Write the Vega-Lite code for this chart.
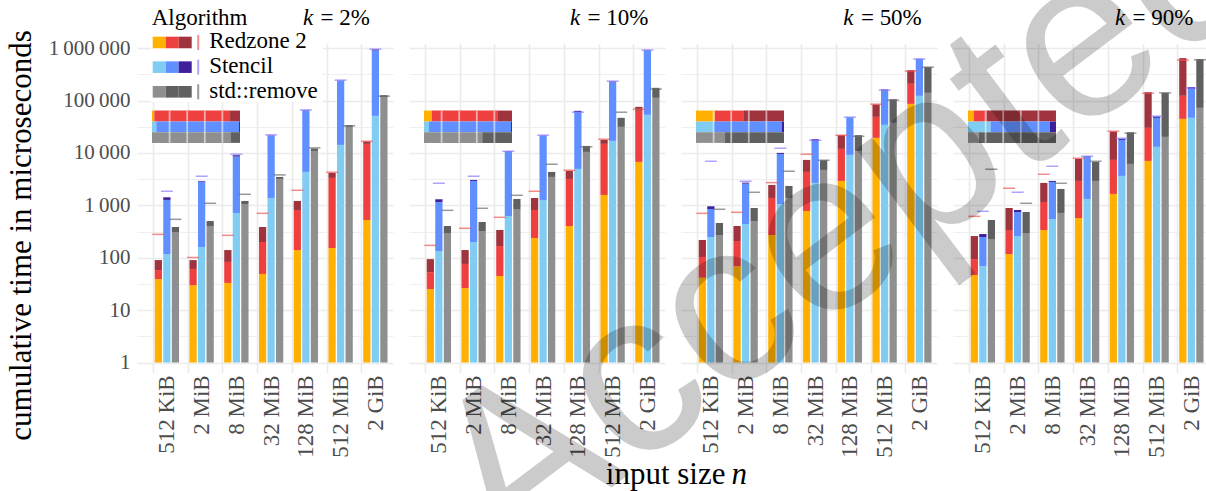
{
"$schema": "https://vega.github.io/schema/vega-lite/v6.json",
"autosize": "none",
"bounds": "flush",
"padding": {"left": 137, "top": 0, "right": 1069, "bottom": 491},
"spacing": 16,
"config": {
  "font": "Liberation Serif",
  "view": {"stroke": null},
  "axis": {"domain": false, "ticks": false, "labelFont": "Liberation Serif", "titleFont": "Liberation Serif", "labelColor": "#4d4d4d", "titleColor": "#000000", "titleFontWeight": "normal", "gridColor": "#ebebeb"}
},
"datasets": {
"bars": [
{"k":"2%","n":"512 KiB","a":"R","p":"R1","lo":1,"hi":39},{"k":"2%","n":"512 KiB","a":"R","p":"R2","lo":39,"hi":58},{"k":"2%","n":"512 KiB","a":"R","p":"R3","lo":58,"hi":90},
{"k":"2%","n":"512 KiB","a":"S","p":"S1","lo":1,"hi":117},{"k":"2%","n":"512 KiB","a":"S","p":"S2","lo":117,"hi":1266},{"k":"2%","n":"512 KiB","a":"S","p":"S3","lo":1266,"hi":1422},
{"k":"2%","n":"512 KiB","a":"G","p":"G1","lo":1,"hi":305},{"k":"2%","n":"512 KiB","a":"G","p":"G2","lo":305,"hi":385},
{"k":"2%","n":"2 MiB","a":"R","p":"R1","lo":1,"hi":30},{"k":"2%","n":"2 MiB","a":"R","p":"R2","lo":30,"hi":61},{"k":"2%","n":"2 MiB","a":"R","p":"R3","lo":61,"hi":90},
{"k":"2%","n":"2 MiB","a":"S","p":"S1","lo":1,"hi":160},{"k":"2%","n":"2 MiB","a":"S","p":"S2","lo":160,"hi":2833},{"k":"2%","n":"2 MiB","a":"S","p":"S3","lo":2833,"hi":2917},
{"k":"2%","n":"2 MiB","a":"G","p":"G1","lo":1,"hi":403},{"k":"2%","n":"2 MiB","a":"G","p":"G2","lo":403,"hi":501},
{"k":"2%","n":"8 MiB","a":"R","p":"R1","lo":1,"hi":33},{"k":"2%","n":"8 MiB","a":"R","p":"R2","lo":33,"hi":83},{"k":"2%","n":"8 MiB","a":"R","p":"R3","lo":83,"hi":140},
{"k":"2%","n":"8 MiB","a":"S","p":"S1","lo":1,"hi":714},{"k":"2%","n":"8 MiB","a":"S","p":"S2","lo":714,"hi":8510},{"k":"2%","n":"8 MiB","a":"S","p":"S3","lo":8510,"hi":9020},
{"k":"2%","n":"8 MiB","a":"G","p":"G1","lo":1,"hi":1060},{"k":"2%","n":"8 MiB","a":"G","p":"G2","lo":1060,"hi":1210},
{"k":"2%","n":"32 MiB","a":"R","p":"R1","lo":1,"hi":49},{"k":"2%","n":"32 MiB","a":"R","p":"R2","lo":49,"hi":199},{"k":"2%","n":"32 MiB","a":"R","p":"R3","lo":199,"hi":385},
{"k":"2%","n":"32 MiB","a":"S","p":"S1","lo":1,"hi":1380},{"k":"2%","n":"32 MiB","a":"S","p":"S2","lo":1380,"hi":21400},{"k":"2%","n":"32 MiB","a":"S","p":"S3","lo":21400,"hi":21700},
{"k":"2%","n":"32 MiB","a":"G","p":"G1","lo":1,"hi":3185},{"k":"2%","n":"32 MiB","a":"G","p":"G2","lo":3185,"hi":3477},
{"k":"2%","n":"128 MiB","a":"R","p":"R1","lo":1,"hi":140},{"k":"2%","n":"128 MiB","a":"R","p":"R2","lo":140,"hi":814},{"k":"2%","n":"128 MiB","a":"R","p":"R3","lo":814,"hi":1210},
{"k":"2%","n":"128 MiB","a":"S","p":"S1","lo":1,"hi":4335},{"k":"2%","n":"128 MiB","a":"S","p":"S2","lo":4335,"hi":64400},{"k":"2%","n":"128 MiB","a":"S","p":"S3","lo":64400,"hi":65500},
{"k":"2%","n":"128 MiB","a":"G","p":"G1","lo":1,"hi":10900},{"k":"2%","n":"128 MiB","a":"G","p":"G2","lo":10900,"hi":12100},
{"k":"2%","n":"512 MiB","a":"R","p":"R1","lo":1,"hi":153},{"k":"2%","n":"512 MiB","a":"R","p":"R2","lo":153,"hi":3330},{"k":"2%","n":"512 MiB","a":"R","p":"R3","lo":3330,"hi":4150},
{"k":"2%","n":"512 MiB","a":"S","p":"S1","lo":1,"hi":14200},{"k":"2%","n":"512 MiB","a":"S","p":"S2","lo":14200,"hi":237600},{"k":"2%","n":"512 MiB","a":"S","p":"S3","lo":237600,"hi":241000},
{"k":"2%","n":"512 MiB","a":"G","p":"G1","lo":1,"hi":31400},{"k":"2%","n":"512 MiB","a":"G","p":"G2","lo":31400,"hi":33800},
{"k":"2%","n":"2 GiB","a":"R","p":"R1","lo":1,"hi":525},{"k":"2%","n":"2 GiB","a":"R","p":"R2","lo":525,"hi":14860},{"k":"2%","n":"2 GiB","a":"R","p":"R3","lo":14860,"hi":16470},
{"k":"2%","n":"2 GiB","a":"S","p":"S1","lo":1,"hi":50900},{"k":"2%","n":"2 GiB","a":"S","p":"S2","lo":50900,"hi":902000},{"k":"2%","n":"2 GiB","a":"S","p":"S3","lo":902000,"hi":943000},
{"k":"2%","n":"2 GiB","a":"G","p":"G1","lo":1,"hi":114000},{"k":"2%","n":"2 GiB","a":"G","p":"G2","lo":114000,"hi":126500},

{"k":"10%","n":"512 KiB","a":"R","p":"R1","lo":1,"hi":25.2},{"k":"10%","n":"512 KiB","a":"R","p":"R2","lo":25.2,"hi":53},{"k":"10%","n":"512 KiB","a":"R","p":"R3","lo":53,"hi":94},
{"k":"10%","n":"512 KiB","a":"S","p":"S1","lo":1,"hi":134},{"k":"10%","n":"512 KiB","a":"S","p":"S2","lo":134,"hi":1158},{"k":"10%","n":"512 KiB","a":"S","p":"S3","lo":1158,"hi":1303},
{"k":"10%","n":"512 KiB","a":"G","p":"G1","lo":1,"hi":296},{"k":"10%","n":"512 KiB","a":"G","p":"G2","lo":296,"hi":403},
{"k":"10%","n":"2 MiB","a":"R","p":"R1","lo":1,"hi":26.3},{"k":"10%","n":"2 MiB","a":"R","p":"R2","lo":26.3,"hi":76},{"k":"10%","n":"2 MiB","a":"R","p":"R3","lo":76,"hi":140},
{"k":"10%","n":"2 MiB","a":"S","p":"S1","lo":1,"hi":199},{"k":"10%","n":"2 MiB","a":"S","p":"S2","lo":199,"hi":2917},{"k":"10%","n":"2 MiB","a":"S","p":"S3","lo":2917,"hi":3050},
{"k":"10%","n":"2 MiB","a":"G","p":"G1","lo":1,"hi":323},{"k":"10%","n":"2 MiB","a":"G","p":"G2","lo":323,"hi":480},
{"k":"10%","n":"8 MiB","a":"R","p":"R1","lo":1,"hi":44.7},{"k":"10%","n":"8 MiB","a":"R","p":"R2","lo":44.7,"hi":167},{"k":"10%","n":"8 MiB","a":"R","p":"R3","lo":167,"hi":338},
{"k":"10%","n":"8 MiB","a":"S","p":"S1","lo":1,"hi":625},{"k":"10%","n":"8 MiB","a":"S","p":"S2","lo":625,"hi":10600},{"k":"10%","n":"8 MiB","a":"S","p":"S3","lo":10600,"hi":10800},
{"k":"10%","n":"8 MiB","a":"G","p":"G1","lo":1,"hi":851},{"k":"10%","n":"8 MiB","a":"G","p":"G2","lo":851,"hi":1321},
{"k":"10%","n":"32 MiB","a":"R","p":"R1","lo":1,"hi":238},{"k":"10%","n":"32 MiB","a":"R","p":"R2","lo":238,"hi":814},{"k":"10%","n":"32 MiB","a":"R","p":"R3","lo":814,"hi":1380},
{"k":"10%","n":"32 MiB","a":"S","p":"S1","lo":1,"hi":1265},{"k":"10%","n":"32 MiB","a":"S","p":"S2","lo":1265,"hi":21400},{"k":"10%","n":"32 MiB","a":"S","p":"S3","lo":21400,"hi":21600},
{"k":"10%","n":"32 MiB","a":"G","p":"G1","lo":1,"hi":3477},{"k":"10%","n":"32 MiB","a":"G","p":"G2","lo":3477,"hi":4335},
{"k":"10%","n":"128 MiB","a":"R","p":"R1","lo":1,"hi":403},{"k":"10%","n":"128 MiB","a":"R","p":"R2","lo":403,"hi":3185},{"k":"10%","n":"128 MiB","a":"R","p":"R3","lo":3185,"hi":4530},
{"k":"10%","n":"128 MiB","a":"S","p":"S1","lo":1,"hi":4945},{"k":"10%","n":"128 MiB","a":"S","p":"S2","lo":4945,"hi":59840},{"k":"10%","n":"128 MiB","a":"S","p":"S3","lo":59840,"hi":63500},
{"k":"10%","n":"128 MiB","a":"G","p":"G1","lo":1,"hi":10440},{"k":"10%","n":"128 MiB","a":"G","p":"G2","lo":10440,"hi":13600},
{"k":"10%","n":"512 MiB","a":"R","p":"R1","lo":1,"hi":1575},{"k":"10%","n":"512 MiB","a":"R","p":"R2","lo":1575,"hi":14860},{"k":"10%","n":"512 MiB","a":"R","p":"R3","lo":14860,"hi":17700},
{"k":"10%","n":"512 MiB","a":"S","p":"S1","lo":1,"hi":16950},{"k":"10%","n":"512 MiB","a":"S","p":"S2","lo":16950,"hi":224000},{"k":"10%","n":"512 MiB","a":"S","p":"S3","lo":224000,"hi":230600},
{"k":"10%","n":"512 MiB","a":"G","p":"G1","lo":1,"hi":31400},{"k":"10%","n":"512 MiB","a":"G","p":"G2","lo":31400,"hi":46700},
{"k":"10%","n":"2 GiB","a":"R","p":"R1","lo":1,"hi":6730},{"k":"10%","n":"2 GiB","a":"R","p":"R2","lo":6730,"hi":63500},{"k":"10%","n":"2 GiB","a":"R","p":"R3","lo":63500,"hi":75700},
{"k":"10%","n":"2 GiB","a":"S","p":"S1","lo":1,"hi":53200},{"k":"10%","n":"2 GiB","a":"S","p":"S2","lo":53200,"hi":916000},{"k":"10%","n":"2 GiB","a":"S","p":"S3","lo":916000,"hi":925000},
{"k":"10%","n":"2 GiB","a":"G","p":"G1","lo":1,"hi":112500},{"k":"10%","n":"2 GiB","a":"G","p":"G2","lo":112500,"hi":174700},

{"k":"50%","n":"512 KiB","a":"R","p":"R1","lo":1,"hi":41.5},{"k":"50%","n":"512 KiB","a":"R","p":"R2","lo":41.5,"hi":103},{"k":"50%","n":"512 KiB","a":"R","p":"R3","lo":103,"hi":218},
{"k":"50%","n":"512 KiB","a":"S","p":"S1","lo":1,"hi":248},{"k":"50%","n":"512 KiB","a":"S","p":"S2","lo":248,"hi":851},{"k":"50%","n":"512 KiB","a":"S","p":"S3","lo":851,"hi":957},
{"k":"50%","n":"512 KiB","a":"G","p":"G1","lo":1,"hi":271},{"k":"50%","n":"512 KiB","a":"G","p":"G2","lo":271,"hi":459},
{"k":"50%","n":"2 MiB","a":"R","p":"R1","lo":1,"hi":69},{"k":"50%","n":"2 MiB","a":"R","p":"R2","lo":69,"hi":208},{"k":"50%","n":"2 MiB","a":"R","p":"R3","lo":208,"hi":403},
{"k":"50%","n":"2 MiB","a":"S","p":"S1","lo":1,"hi":440},{"k":"50%","n":"2 MiB","a":"S","p":"S2","lo":440,"hi":2594},{"k":"50%","n":"2 MiB","a":"S","p":"S3","lo":2594,"hi":2710},
{"k":"50%","n":"2 MiB","a":"G","p":"G1","lo":1,"hi":501},{"k":"50%","n":"2 MiB","a":"G","p":"G2","lo":501,"hi":889},
{"k":"50%","n":"8 MiB","a":"R","p":"R1","lo":1,"hi":271},{"k":"50%","n":"8 MiB","a":"R","p":"R2","lo":271,"hi":1380},{"k":"50%","n":"8 MiB","a":"R","p":"R3","lo":1380,"hi":2447},
{"k":"50%","n":"8 MiB","a":"S","p":"S1","lo":1,"hi":1060},{"k":"50%","n":"8 MiB","a":"S","p":"S2","lo":1060,"hi":9570},{"k":"50%","n":"8 MiB","a":"S","p":"S3","lo":9570,"hi":10000},
{"k":"50%","n":"8 MiB","a":"G","p":"G1","lo":1,"hi":1380},{"k":"50%","n":"8 MiB","a":"G","p":"G2","lo":1380,"hi":2340},
{"k":"50%","n":"32 MiB","a":"R","p":"R1","lo":1,"hi":780},{"k":"50%","n":"32 MiB","a":"R","p":"R2","lo":780,"hi":4335},{"k":"50%","n":"32 MiB","a":"R","p":"R3","lo":4335,"hi":7350},
{"k":"50%","n":"32 MiB","a":"S","p":"S1","lo":1,"hi":2672},{"k":"50%","n":"32 MiB","a":"S","p":"S2","lo":2672,"hi":16950},{"k":"50%","n":"32 MiB","a":"S","p":"S3","lo":16950,"hi":18240},
{"k":"50%","n":"32 MiB","a":"G","p":"G1","lo":1,"hi":4730},{"k":"50%","n":"32 MiB","a":"G","p":"G2","lo":4730,"hi":7250},
{"k":"50%","n":"128 MiB","a":"R","p":"R1","lo":1,"hi":2917},{"k":"50%","n":"128 MiB","a":"R","p":"R2","lo":2917,"hi":11920},{"k":"50%","n":"128 MiB","a":"R","p":"R3","lo":11920,"hi":21770},
{"k":"50%","n":"128 MiB","a":"S","p":"S1","lo":1,"hi":9160},{"k":"50%","n":"128 MiB","a":"S","p":"S2","lo":9160,"hi":47300},{"k":"50%","n":"128 MiB","a":"S","p":"S3","lo":47300,"hi":47800},
{"k":"50%","n":"128 MiB","a":"G","p":"G1","lo":1,"hi":10900},{"k":"50%","n":"128 MiB","a":"G","p":"G2","lo":10900,"hi":21770},
{"k":"50%","n":"512 MiB","a":"R","p":"R1","lo":1,"hi":19350},{"k":"50%","n":"512 MiB","a":"R","p":"R2","lo":19350,"hi":48700},{"k":"50%","n":"512 MiB","a":"R","p":"R3","lo":48700,"hi":83900},
{"k":"50%","n":"512 MiB","a":"S","p":"S1","lo":1,"hi":34300},{"k":"50%","n":"512 MiB","a":"S","p":"S2","lo":34300,"hi":155300},{"k":"50%","n":"512 MiB","a":"S","p":"S3","lo":155300,"hi":162300},
{"k":"50%","n":"512 MiB","a":"G","p":"G1","lo":1,"hi":37400},{"k":"50%","n":"512 MiB","a":"G","p":"G2","lo":37400,"hi":106000},
{"k":"50%","n":"2 GiB","a":"R","p":"R1","lo":1,"hi":86300},{"k":"50%","n":"2 GiB","a":"R","p":"R2","lo":86300,"hi":208000},{"k":"50%","n":"2 GiB","a":"R","p":"R3","lo":208000,"hi":380000},
{"k":"50%","n":"2 GiB","a":"S","p":"S1","lo":1,"hi":122800},{"k":"50%","n":"2 GiB","a":"S","p":"S2","lo":122800,"hi":616600},{"k":"50%","n":"2 GiB","a":"S","p":"S3","lo":616600,"hi":625000},
{"k":"50%","n":"2 GiB","a":"G","p":"G1","lo":1,"hi":140000},{"k":"50%","n":"2 GiB","a":"G","p":"G2","lo":140000,"hi":433600},

{"k":"90%","n":"512 KiB","a":"R","p":"R1","lo":1,"hi":46.6},{"k":"90%","n":"512 KiB","a":"R","p":"R2","lo":46.6,"hi":94},{"k":"90%","n":"512 KiB","a":"R","p":"R3","lo":94,"hi":259},
{"k":"90%","n":"512 KiB","a":"S","p":"S1","lo":1,"hi":69},{"k":"90%","n":"512 KiB","a":"S","p":"S2","lo":69,"hi":248},{"k":"90%","n":"512 KiB","a":"S","p":"S3","lo":248,"hi":283},
{"k":"90%","n":"512 KiB","a":"G","p":"G1","lo":1,"hi":227},{"k":"90%","n":"512 KiB","a":"G","p":"G2","lo":227,"hi":525},
{"k":"90%","n":"2 MiB","a":"R","p":"R1","lo":1,"hi":117},{"k":"90%","n":"2 MiB","a":"R","p":"R2","lo":117,"hi":338},{"k":"90%","n":"2 MiB","a":"R","p":"R3","lo":338,"hi":889},
{"k":"90%","n":"2 MiB","a":"S","p":"S1","lo":1,"hi":259},{"k":"90%","n":"2 MiB","a":"S","p":"S2","lo":259,"hi":746},{"k":"90%","n":"2 MiB","a":"S","p":"S3","lo":746,"hi":814},
{"k":"90%","n":"2 MiB","a":"G","p":"G1","lo":1,"hi":296},{"k":"90%","n":"2 MiB","a":"G","p":"G2","lo":296,"hi":746},
{"k":"90%","n":"8 MiB","a":"R","p":"R1","lo":1,"hi":338},{"k":"90%","n":"8 MiB","a":"R","p":"R2","lo":338,"hi":1158},{"k":"90%","n":"8 MiB","a":"R","p":"R3","lo":1158,"hi":2672},
{"k":"90%","n":"8 MiB","a":"S","p":"S1","lo":1,"hi":548},{"k":"90%","n":"8 MiB","a":"S","p":"S2","lo":548,"hi":2792},{"k":"90%","n":"8 MiB","a":"S","p":"S3","lo":2792,"hi":2917},
{"k":"90%","n":"8 MiB","a":"G","p":"G1","lo":1,"hi":714},{"k":"90%","n":"8 MiB","a":"G","p":"G2","lo":714,"hi":2050},
{"k":"90%","n":"32 MiB","a":"R","p":"R1","lo":1,"hi":573},{"k":"90%","n":"32 MiB","a":"R","p":"R2","lo":573,"hi":2917},{"k":"90%","n":"32 MiB","a":"R","p":"R3","lo":2917,"hi":7680},
{"k":"90%","n":"32 MiB","a":"S","p":"S1","lo":1,"hi":1321},{"k":"90%","n":"32 MiB","a":"S","p":"S2","lo":1321,"hi":8390},{"k":"90%","n":"32 MiB","a":"S","p":"S3","lo":8390,"hi":8630},
{"k":"90%","n":"32 MiB","a":"G","p":"G1","lo":1,"hi":2917},{"k":"90%","n":"32 MiB","a":"G","p":"G2","lo":2917,"hi":6730},
{"k":"90%","n":"128 MiB","a":"R","p":"R1","lo":1,"hi":1648},{"k":"90%","n":"128 MiB","a":"R","p":"R2","lo":1648,"hi":7350},{"k":"90%","n":"128 MiB","a":"R","p":"R3","lo":7350,"hi":25570},
{"k":"90%","n":"128 MiB","a":"S","p":"S1","lo":1,"hi":3637},{"k":"90%","n":"128 MiB","a":"S","p":"S2","lo":3637,"hi":17700},{"k":"90%","n":"128 MiB","a":"S","p":"S3","lo":17700,"hi":18530},
{"k":"90%","n":"128 MiB","a":"G","p":"G1","lo":1,"hi":6160},{"k":"90%","n":"128 MiB","a":"G","p":"G2","lo":6160,"hi":24800},
{"k":"90%","n":"512 MiB","a":"R","p":"R1","lo":1,"hi":7030},{"k":"90%","n":"512 MiB","a":"R","p":"R2","lo":7030,"hi":30050},{"k":"90%","n":"512 MiB","a":"R","p":"R3","lo":30050,"hi":144300},
{"k":"90%","n":"512 MiB","a":"S","p":"S1","lo":1,"hi":13030},{"k":"90%","n":"512 MiB","a":"S","p":"S2","lo":13030,"hi":46700},{"k":"90%","n":"512 MiB","a":"S","p":"S3","lo":46700,"hi":49400},
{"k":"90%","n":"512 MiB","a":"G","p":"G1","lo":1,"hi":20200},{"k":"90%","n":"512 MiB","a":"G","p":"G2","lo":20200,"hi":140000},
{"k":"90%","n":"2 GiB","a":"R","p":"R1","lo":1,"hi":44600},{"k":"90%","n":"2 GiB","a":"R","p":"R2","lo":44600,"hi":122800},{"k":"90%","n":"2 GiB","a":"R","p":"R3","lo":122800,"hi":644000},
{"k":"90%","n":"2 GiB","a":"S","p":"S1","lo":1,"hi":46700},{"k":"90%","n":"2 GiB","a":"S","p":"S2","lo":46700,"hi":167000},{"k":"90%","n":"2 GiB","a":"S","p":"S3","lo":167000,"hi":179800},
{"k":"90%","n":"2 GiB","a":"G","p":"G1","lo":1,"hi":72400},{"k":"90%","n":"2 GiB","a":"G","p":"G2","lo":72400,"hi":616600}
],
"ticks": [
{"k":"2%","n":"512 KiB","a":"R","t":279},{"k":"2%","n":"512 KiB","a":"S","t":1853},{"k":"2%","n":"512 KiB","a":"G","t":540},
{"k":"2%","n":"2 MiB","a":"R","t":101},{"k":"2%","n":"2 MiB","a":"S","t":3583},{"k":"2%","n":"2 MiB","a":"G","t":1092},
{"k":"2%","n":"8 MiB","a":"R","t":267},{"k":"2%","n":"8 MiB","a":"S","t":9440},{"k":"2%","n":"8 MiB","a":"G","t":1623},
{"k":"2%","n":"32 MiB","a":"R","t":703},{"k":"2%","n":"32 MiB","a":"S","t":22100},{"k":"2%","n":"32 MiB","a":"G","t":3800},
{"k":"2%","n":"128 MiB","a":"R","t":1935},{"k":"2%","n":"128 MiB","a":"S","t":66300},{"k":"2%","n":"128 MiB","a":"G","t":12470},
{"k":"2%","n":"512 MiB","a":"R","t":4270},{"k":"2%","n":"512 MiB","a":"S","t":244700},{"k":"2%","n":"512 MiB","a":"G","t":32800},
{"k":"2%","n":"2 GiB","a":"R","t":16700},{"k":"2%","n":"2 GiB","a":"S","t":957000},{"k":"2%","n":"2 GiB","a":"G","t":121000},
{"k":"10%","n":"512 KiB","a":"R","t":172},{"k":"10%","n":"512 KiB","a":"S","t":2632},{"k":"10%","n":"512 KiB","a":"G","t":802},
{"k":"10%","n":"2 MiB","a":"R","t":364},{"k":"10%","n":"2 MiB","a":"S","t":3583},{"k":"10%","n":"2 MiB","a":"G","t":877},
{"k":"10%","n":"8 MiB","a":"R","t":590},{"k":"10%","n":"8 MiB","a":"S","t":10770},{"k":"10%","n":"8 MiB","a":"G","t":1553},
{"k":"10%","n":"32 MiB","a":"R","t":1853},{"k":"10%","n":"32 MiB","a":"S","t":21770},{"k":"10%","n":"32 MiB","a":"G","t":6070},
{"k":"10%","n":"128 MiB","a":"R","t":4670},{"k":"10%","n":"128 MiB","a":"S","t":59800},{"k":"10%","n":"128 MiB","a":"G","t":13030},
{"k":"10%","n":"512 MiB","a":"R","t":18240},{"k":"10%","n":"512 MiB","a":"S","t":234000},{"k":"10%","n":"512 MiB","a":"G","t":59800},
{"k":"10%","n":"2 GiB","a":"R","t":68300},{"k":"10%","n":"2 GiB","a":"S","t":916000},{"k":"10%","n":"2 GiB","a":"G","t":164800},
{"k":"50%","n":"512 KiB","a":"R","t":703},{"k":"50%","n":"512 KiB","a":"S","t":6930},{"k":"50%","n":"512 KiB","a":"G","t":839},
{"k":"50%","n":"2 MiB","a":"R","t":735},{"k":"50%","n":"2 MiB","a":"S","t":2875},{"k":"50%","n":"2 MiB","a":"G","t":1771},
{"k":"50%","n":"8 MiB","a":"R","t":2710},{"k":"50%","n":"8 MiB","a":"S","t":12270},{"k":"50%","n":"8 MiB","a":"G","t":4465},
{"k":"50%","n":"32 MiB","a":"R","t":9440},{"k":"50%","n":"32 MiB","a":"S","t":17460},{"k":"50%","n":"32 MiB","a":"G","t":7250},
{"k":"50%","n":"128 MiB","a":"R","t":21770},{"k":"50%","n":"128 MiB","a":"S","t":48100},{"k":"50%","n":"128 MiB","a":"G","t":20800},
{"k":"50%","n":"512 MiB","a":"R","t":85100},{"k":"50%","n":"512 MiB","a":"S","t":157400},{"k":"50%","n":"512 MiB","a":"G","t":101400},
{"k":"50%","n":"2 GiB","a":"R","t":364000},{"k":"50%","n":"2 GiB","a":"S","t":616600},{"k":"50%","n":"2 GiB","a":"G","t":433600},
{"k":"90%","n":"512 KiB","a":"R","t":616},{"k":"90%","n":"512 KiB","a":"S","t":768},{"k":"90%","n":"512 KiB","a":"G","t":4875},
{"k":"90%","n":"2 MiB","a":"R","t":2113},{"k":"90%","n":"2 MiB","a":"S","t":1771},{"k":"90%","n":"2 MiB","a":"G","t":1092},
{"k":"90%","n":"8 MiB","a":"R","t":3910},{"k":"90%","n":"8 MiB","a":"S","t":5560},{"k":"90%","n":"8 MiB","a":"G","t":2632},
{"k":"90%","n":"32 MiB","a":"R","t":7910},{"k":"90%","n":"32 MiB","a":"S","t":8630},{"k":"90%","n":"32 MiB","a":"G","t":6930},
{"k":"90%","n":"128 MiB","a":"R","t":25950},{"k":"90%","n":"128 MiB","a":"S","t":19050},{"k":"90%","n":"128 MiB","a":"G","t":23760},
{"k":"90%","n":"512 MiB","a":"R","t":138000},{"k":"90%","n":"512 MiB","a":"S","t":50200},{"k":"90%","n":"512 MiB","a":"G","t":140000},
{"k":"90%","n":"2 GiB","a":"R","t":590000},{"k":"90%","n":"2 GiB","a":"S","t":172100},{"k":"90%","n":"2 GiB","a":"G","t":598000}
],
"inset": [
{"k":"2%","a":"R","p":"R1","f0":0,"f1":0.026},{"k":"2%","a":"R","p":"R2","f0":0.026,"f1":0.887},{"k":"2%","a":"R","p":"R3","f0":0.887,"f1":1},
{"k":"2%","a":"S","p":"S1","f0":0,"f1":0.049},{"k":"2%","a":"S","p":"S2","f0":0.049,"f1":0.989},{"k":"2%","a":"S","p":"S3","f0":0.989,"f1":1},
{"k":"2%","a":"G","p":"G1","f0":0,"f1":0.898},{"k":"2%","a":"G","p":"G2","f0":0.898,"f1":1},
{"k":"10%","a":"R","p":"R1","f0":0,"f1":0.091},{"k":"10%","a":"R","p":"R2","f0":0.091,"f1":0.833},{"k":"10%","a":"R","p":"R3","f0":0.833,"f1":1},
{"k":"10%","a":"S","p":"S1","f0":0,"f1":0.057},{"k":"10%","a":"S","p":"S2","f0":0.057,"f1":0.989},{"k":"10%","a":"S","p":"S3","f0":0.989,"f1":1},
{"k":"10%","a":"G","p":"G1","f0":0,"f1":0.662},{"k":"10%","a":"G","p":"G2","f0":0.662,"f1":1},
{"k":"50%","a":"R","p":"R1","f0":0,"f1":0.212},{"k":"50%","a":"R","p":"R2","f0":0.212,"f1":0.545},{"k":"50%","a":"R","p":"R3","f0":0.545,"f1":1},
{"k":"50%","a":"S","p":"S1","f0":0,"f1":0.197},{"k":"50%","a":"S","p":"S2","f0":0.197,"f1":0.973},{"k":"50%","a":"S","p":"S3","f0":0.973,"f1":1},
{"k":"50%","a":"G","p":"G1","f0":0,"f1":0.33},{"k":"50%","a":"G","p":"G2","f0":0.33,"f1":1},
{"k":"90%","a":"R","p":"R1","f0":0,"f1":0.064},{"k":"90%","a":"R","p":"R2","f0":0.064,"f1":0.21},{"k":"90%","a":"R","p":"R3","f0":0.21,"f1":1},
{"k":"90%","a":"S","p":"S1","f0":0,"f1":0.256},{"k":"90%","a":"S","p":"S2","f0":0.256,"f1":0.932},{"k":"90%","a":"S","p":"S3","f0":0.932,"f1":1},
{"k":"90%","a":"G","p":"G1","f0":0,"f1":0.12},{"k":"90%","a":"G","p":"G2","f0":0.12,"f1":1}
],
"igrid": [{"f":0.2},{"f":0.4},{"f":0.6},{"f":0.8}],
"lsw": [
{"a":"R","slot":"1","p":"R1"},{"a":"R","slot":"2","p":"R2"},{"a":"R","slot":"3","p":"R3"},
{"a":"S","slot":"1","p":"S1"},{"a":"S","slot":"2","p":"S2"},{"a":"S","slot":"3","p":"S3"},
{"a":"G","slot":"1","p":"G1"},{"a":"G","slot":"2","p":"G2"},{"a":"G","slot":"3","p":"G2"}
],
"lalg": [{"a":"R","name":"Redzone 2"},{"a":"S","name":"Stencil"},{"a":"G","name":"std::remove"}]
},
"hconcat": [
{
 "width": 256, "height": 372.8,
 "layer": [
  {
   "layer": [
    {
     "layer": [
      {"data": {"values": [{}]}, "mark": {"type": "rect", "fill": "white"}, "encoding": {"y": {"datum": 1200000, "type": "quantitative"}, "y2": {"datum": 8280000}}},
      {"data": {"name": "bars"}, "transform": [{"filter": "datum.k == '2%'"}], "mark": "bar",
       "encoding": {
        "x": {"field": "n", "type": "nominal", "title": null, "scale": {"domain": ["512 KiB","2 MiB","8 MiB","32 MiB","128 MiB","512 MiB","2 GiB"], "paddingInner": 0.3, "paddingOuter": 0.3335, "align": 0.764}, "axis": {"labelAngle": 270, "labelFontSize": 23, "labelPadding": 2, "tickOffset": -13.9, "labelOffset": 13.9, "grid": true, "gridWidth": 1.6}},
        "xOffset": {"field": "a", "type": "nominal", "scale": {"domain": ["R","S","G"], "paddingInner": 0.15, "paddingOuter": 0}},
        "y": {"field": "lo", "type": "quantitative", "title": "cumulative time in microseconds", "scale": {"type": "log", "domain": [0.636, 8280000], "nice": false}, "axis": {"values": [1,3.1623,10,31.623,100,316.23,1000,3162.3,10000,31623,100000,316228,1000000], "format": ",", "labelExpr": "abs(log(datum.value)/LN10 - round(log(datum.value)/LN10)) < 0.01 ? replace(format(datum.value, ','), regexp(',', 'g'), '\u2009') : ''", "grid": true, "gridWidth": {"condition": {"test": "abs(log(datum.value)/LN10 - round(log(datum.value)/LN10)) < 0.01", "value": 1.6}, "value": 0.8}, "labelFontSize": 21, "labelPadding": 7, "titleFontSize": 31, "titlePadding": 11, "titleY": 235}},
        "y2": {"field": "hi"},
        "color": {"field": "p", "type": "nominal", "legend": null, "scale": {"domain": ["R1","R2","R3","S1","S2","S3","G1","G2"], "range": ["#ffb000","#ef4040","#a0343e","#80ccf2","#6090ff","#3f1f9b","#8f8f8f","#606060"]}}
       }},
      {"data": {"name": "ticks"}, "transform": [{"filter": "datum.k == '2%'"}], "mark": {"type": "tick", "thickness": 1.5, "size": 12},
       "encoding": {"x": {"field": "n", "type": "nominal", "title": null}, "xOffset": {"field": "a", "type": "nominal"}, "y": {"field": "t", "type": "quantitative", "title": "cumulative time in microseconds"}, "fill": {"field": "a", "type": "nominal", "legend": null, "scale": {"domain": ["R","S","G"], "range": ["#ee5a5a","#8a7dff","#6e6e6e"]}}}},
      {"data": {"values": [{}]}, "mark": {"type": "text", "text": "k", "fontStyle": "italic", "fontSize": 23, "align": "left", "baseline": "alphabetic", "dx": -37.6}, "encoding": {"x": {"datum": "512 MiB", "type": "nominal"}, "y": {"datum": 2760000, "type": "quantitative"}}},
      {"data": {"values": [{}]}, "mark": {"type": "text", "text": "= 2%", "fontSize": 23, "align": "left", "baseline": "alphabetic", "dx": -20}, "encoding": {"x": {"datum": "512 MiB", "type": "nominal"}, "y": {"datum": 2760000, "type": "quantitative"}}}
     ]
    },
    {
     "layer": [
      {"data": {"values": [{}]}, "mark": {"type": "rect", "fill": "white"}, "encoding": {"x": {"datum": -0.011, "type": "quantitative", "axis": null, "scale": {"domain": [-0.1705, 2.739], "nice": false, "zero": false}}, "x2": {"datum": 1.943}, "y": {"datum": 93600, "type": "quantitative"}, "y2": {"datum": 1200000}}},
      {"data": {"name": "inset"}, "transform": [{"filter": "datum.k == '2%' && datum.a == 'R'"}], "mark": "rect", "encoding": {"x": {"field": "f0", "type": "quantitative", "axis": null}, "x2": {"field": "f1"}, "y": {"datum": 39620, "type": "quantitative"}, "y2": {"datum": 64270}, "color": {"field": "p", "type": "nominal", "legend": null}}},
      {"data": {"name": "inset"}, "transform": [{"filter": "datum.k == '2%' && datum.a == 'S'"}], "mark": "rect", "encoding": {"x": {"field": "f0", "type": "quantitative", "axis": null}, "x2": {"field": "f1"}, "y": {"datum": 24850, "type": "quantitative"}, "y2": {"datum": 39620}, "color": {"field": "p", "type": "nominal", "legend": null}}},
      {"data": {"name": "inset"}, "transform": [{"filter": "datum.k == '2%' && datum.a == 'G'"}], "mark": "rect", "encoding": {"x": {"field": "f0", "type": "quantitative", "axis": null}, "x2": {"field": "f1"}, "y": {"datum": 15520, "type": "quantitative"}, "y2": {"datum": 24850}, "color": {"field": "p", "type": "nominal", "legend": null}}},
      {"data": {"name": "igrid"}, "mark": {"type": "rule", "color": "white", "strokeWidth": 1.8, "opacity": 0.55}, "encoding": {"x": {"field": "f", "type": "quantitative", "axis": null}, "y": {"datum": 15520, "type": "quantitative"}, "y2": {"datum": 64270}}}
     ]
    }
   ],
   "resolve": {"scale": {"x": "independent"}}
  },
  {
   "layer": [
    {"data": {"name": "lsw"}, "mark": "rect", "encoding": {
      "x": {"field": "slot", "type": "nominal", "axis": null, "scale": {"domain": ["_0","1","2","3","line","label","_6","_7","_8","_9","_10","_11","_12","_13","_14","_15","_16","_17","_18"], "paddingInner": 0, "paddingOuter": 0.346, "align": 0.3}},
      "y": {"field": "a", "type": "nominal", "axis": null, "scale": {"domain": ["title","R","S","G","_4","_5","_6","_7","_8","_9","_10","_11","_12","_13","_14"], "paddingInner": 0.53, "paddingOuter": 0.32, "align": 0.76}},
      "color": {"field": "p", "type": "nominal", "legend": null}}},
    {"data": {"name": "lalg"}, "mark": {"type": "tick", "orient": "vertical", "size": 15, "thickness": 2}, "encoding": {"x": {"datum": "line", "type": "nominal", "axis": null}, "y": {"field": "a", "type": "nominal", "axis": null}, "fill": {"field": "a", "type": "nominal", "legend": null}}},
    {"data": {"name": "lalg"}, "mark": {"type": "text", "align": "left", "baseline": "middle", "fontSize": 23, "dx": -2, "dy": -1}, "encoding": {"x": {"datum": "label", "type": "nominal", "axis": null}, "y": {"field": "a", "type": "nominal", "axis": null}, "text": {"field": "name"}}},
    {"data": {"values": [{}]}, "mark": {"type": "text", "text": "Algorithm", "align": "left", "baseline": "middle", "fontSize": 23, "dx": -7.5}, "encoding": {"x": {"datum": "1", "type": "nominal", "axis": null}, "y": {"datum": "title", "type": "nominal", "axis": null}}}
   ]
  }
 ],
 "resolve": {"scale": {"x": "independent", "y": "independent"}}
},
{
 "width": 256, "height": 372.8,
 "layer": [
  {
   "layer": [
    {"data": {"values": [{}]}, "mark": {"type": "rect", "fill": "white"}, "encoding": {"y": {"datum": 1200000, "type": "quantitative"}, "y2": {"datum": 8280000}}},
    {"data": {"name": "bars"}, "transform": [{"filter": "datum.k == '10%'"}], "mark": "bar",
     "encoding": {
      "x": {"field": "n", "type": "nominal", "title": "input size", "scale": {"domain": ["512 KiB","2 MiB","8 MiB","32 MiB","128 MiB","512 MiB","2 GiB"], "paddingInner": 0.3, "paddingOuter": 0.3335, "align": 0.764}, "axis": {"labelAngle": 270, "labelFontSize": 23, "labelPadding": 2, "tickOffset": -13.9, "labelOffset": 13.9, "grid": true, "gridWidth": 1.6, "titleFontSize": 31, "titleAlign": "right", "titleX": 316, "titleY": 111, "titleBaseline": "alphabetic"}},
      "xOffset": {"field": "a", "type": "nominal", "scale": {"domain": ["R","S","G"], "paddingInner": 0.15, "paddingOuter": 0}},
      "y": {"field": "lo", "type": "quantitative", "title": null, "scale": {"type": "log", "domain": [0.636, 8280000], "nice": false}, "axis": {"values": [1,3.1623,10,31.623,100,316.23,1000,3162.3,10000,31623,100000,316228,1000000], "labels": false, "grid": true, "gridWidth": {"condition": {"test": "abs(log(datum.value)/LN10 - round(log(datum.value)/LN10)) < 0.01", "value": 1.6}, "value": 0.8}}},
      "y2": {"field": "hi"},
      "color": {"field": "p", "type": "nominal", "legend": null, "scale": {"domain": ["R1","R2","R3","S1","S2","S3","G1","G2"], "range": ["#ffb000","#ef4040","#a0343e","#80ccf2","#6090ff","#3f1f9b","#8f8f8f","#606060"]}}
     }},
    {"data": {"name": "ticks"}, "transform": [{"filter": "datum.k == '10%'"}], "mark": {"type": "tick", "thickness": 1.5, "size": 12},
     "encoding": {"x": {"field": "n", "type": "nominal", "title": "input size"}, "xOffset": {"field": "a", "type": "nominal"}, "y": {"field": "t", "type": "quantitative", "title": null}, "fill": {"field": "a", "type": "nominal", "legend": null, "scale": {"domain": ["R","S","G"], "range": ["#ee5a5a","#8a7dff","#6e6e6e"]}}}},
    {"data": {"values": [{}]}, "mark": {"type": "text", "text": "k", "fontStyle": "italic", "fontSize": 23, "align": "left", "baseline": "alphabetic", "dx": -42.6}, "encoding": {"x": {"datum": "512 MiB", "type": "nominal"}, "y": {"datum": 2760000, "type": "quantitative"}}},
    {"data": {"values": [{}]}, "mark": {"type": "text", "text": "= 10%", "fontSize": 23, "align": "left", "baseline": "alphabetic", "dx": -25}, "encoding": {"x": {"datum": "512 MiB", "type": "nominal"}, "y": {"datum": 2760000, "type": "quantitative"}}}
   ]
  },
  {
   "layer": [
    {"data": {"name": "inset"}, "transform": [{"filter": "datum.k == '10%' && datum.a == 'R'"}], "mark": "rect", "encoding": {"x": {"field": "f0", "type": "quantitative", "axis": null, "scale": {"domain": [-0.1705, 2.739], "nice": false, "zero": false}}, "x2": {"field": "f1"}, "y": {"datum": 39620, "type": "quantitative"}, "y2": {"datum": 64270}, "color": {"field": "p", "type": "nominal", "legend": null}}},
    {"data": {"name": "inset"}, "transform": [{"filter": "datum.k == '10%' && datum.a == 'S'"}], "mark": "rect", "encoding": {"x": {"field": "f0", "type": "quantitative", "axis": null}, "x2": {"field": "f1"}, "y": {"datum": 24850, "type": "quantitative"}, "y2": {"datum": 39620}, "color": {"field": "p", "type": "nominal", "legend": null}}},
    {"data": {"name": "inset"}, "transform": [{"filter": "datum.k == '10%' && datum.a == 'G'"}], "mark": "rect", "encoding": {"x": {"field": "f0", "type": "quantitative", "axis": null}, "x2": {"field": "f1"}, "y": {"datum": 15520, "type": "quantitative"}, "y2": {"datum": 24850}, "color": {"field": "p", "type": "nominal", "legend": null}}},
    {"data": {"name": "igrid"}, "mark": {"type": "rule", "color": "white", "strokeWidth": 1.8, "opacity": 0.55}, "encoding": {"x": {"field": "f", "type": "quantitative", "axis": null}, "y": {"datum": 15520, "type": "quantitative"}, "y2": {"datum": 64270}}}
   ]
  }
 ],
 "resolve": {"scale": {"x": "independent"}}
},
{
 "width": 256, "height": 372.8,
 "layer": [
  {
   "layer": [
    {"data": {"values": [{}]}, "mark": {"type": "rect", "fill": "white"}, "encoding": {"y": {"datum": 1200000, "type": "quantitative"}, "y2": {"datum": 8280000}}},
    {"data": {"name": "bars"}, "transform": [{"filter": "datum.k == '50%'"}], "mark": "bar",
     "encoding": {
      "x": {"field": "n", "type": "nominal", "title": "n", "scale": {"domain": ["512 KiB","2 MiB","8 MiB","32 MiB","128 MiB","512 MiB","2 GiB"], "paddingInner": 0.3, "paddingOuter": 0.3335, "align": 0.764}, "axis": {"labelAngle": 270, "labelFontSize": 23, "labelPadding": 2, "tickOffset": -13.9, "labelOffset": 13.9, "grid": true, "gridWidth": 1.6, "titleFontSize": 31, "titleFontStyle": "italic", "titleAlign": "left", "titleX": 50, "titleY": 111, "titleBaseline": "alphabetic"}},
      "xOffset": {"field": "a", "type": "nominal", "scale": {"domain": ["R","S","G"], "paddingInner": 0.15, "paddingOuter": 0}},
      "y": {"field": "lo", "type": "quantitative", "title": null, "scale": {"type": "log", "domain": [0.636, 8280000], "nice": false}, "axis": {"values": [1,3.1623,10,31.623,100,316.23,1000,3162.3,10000,31623,100000,316228,1000000], "labels": false, "grid": true, "gridWidth": {"condition": {"test": "abs(log(datum.value)/LN10 - round(log(datum.value)/LN10)) < 0.01", "value": 1.6}, "value": 0.8}}},
      "y2": {"field": "hi"},
      "color": {"field": "p", "type": "nominal", "legend": null, "scale": {"domain": ["R1","R2","R3","S1","S2","S3","G1","G2"], "range": ["#ffb000","#ef4040","#a0343e","#80ccf2","#6090ff","#3f1f9b","#8f8f8f","#606060"]}}
     }},
    {"data": {"name": "ticks"}, "transform": [{"filter": "datum.k == '50%'"}], "mark": {"type": "tick", "thickness": 1.5, "size": 12},
     "encoding": {"x": {"field": "n", "type": "nominal", "title": "n"}, "xOffset": {"field": "a", "type": "nominal"}, "y": {"field": "t", "type": "quantitative", "title": null}, "fill": {"field": "a", "type": "nominal", "legend": null, "scale": {"domain": ["R","S","G"], "range": ["#ee5a5a","#8a7dff","#6e6e6e"]}}}},
    {"data": {"values": [{}]}, "mark": {"type": "text", "text": "k", "fontStyle": "italic", "fontSize": 23, "align": "left", "baseline": "alphabetic", "dx": -41.3}, "encoding": {"x": {"datum": "512 MiB", "type": "nominal"}, "y": {"datum": 2760000, "type": "quantitative"}}},
    {"data": {"values": [{}]}, "mark": {"type": "text", "text": "= 50%", "fontSize": 23, "align": "left", "baseline": "alphabetic", "dx": -23.7}, "encoding": {"x": {"datum": "512 MiB", "type": "nominal"}, "y": {"datum": 2760000, "type": "quantitative"}}}
   ]
  },
  {
   "layer": [
    {"data": {"name": "inset"}, "transform": [{"filter": "datum.k == '50%' && datum.a == 'R'"}], "mark": "rect", "encoding": {"x": {"field": "f0", "type": "quantitative", "axis": null, "scale": {"domain": [-0.1705, 2.739], "nice": false, "zero": false}}, "x2": {"field": "f1"}, "y": {"datum": 39620, "type": "quantitative"}, "y2": {"datum": 64270}, "color": {"field": "p", "type": "nominal", "legend": null}}},
    {"data": {"name": "inset"}, "transform": [{"filter": "datum.k == '50%' && datum.a == 'S'"}], "mark": "rect", "encoding": {"x": {"field": "f0", "type": "quantitative", "axis": null}, "x2": {"field": "f1"}, "y": {"datum": 24850, "type": "quantitative"}, "y2": {"datum": 39620}, "color": {"field": "p", "type": "nominal", "legend": null}}},
    {"data": {"name": "inset"}, "transform": [{"filter": "datum.k == '50%' && datum.a == 'G'"}], "mark": "rect", "encoding": {"x": {"field": "f0", "type": "quantitative", "axis": null}, "x2": {"field": "f1"}, "y": {"datum": 15520, "type": "quantitative"}, "y2": {"datum": 24850}, "color": {"field": "p", "type": "nominal", "legend": null}}},
    {"data": {"name": "igrid"}, "mark": {"type": "rule", "color": "white", "strokeWidth": 1.8, "opacity": 0.55}, "encoding": {"x": {"field": "f", "type": "quantitative", "axis": null}, "y": {"datum": 15520, "type": "quantitative"}, "y2": {"datum": 64270}}}
   ]
  }
 ],
 "resolve": {"scale": {"x": "independent"}}
},
{
 "width": 256, "height": 372.8,
 "layer": [
  {
   "layer": [
    {"data": {"values": [{}]}, "mark": {"type": "rect", "fill": "white"}, "encoding": {"y": {"datum": 1200000, "type": "quantitative"}, "y2": {"datum": 8280000}}},
    {"data": {"name": "bars"}, "transform": [{"filter": "datum.k == '90%'"}], "mark": "bar",
     "encoding": {
      "x": {"field": "n", "type": "nominal", "title": null, "scale": {"domain": ["512 KiB","2 MiB","8 MiB","32 MiB","128 MiB","512 MiB","2 GiB"], "paddingInner": 0.3, "paddingOuter": 0.3335, "align": 0.764}, "axis": {"labelAngle": 270, "labelFontSize": 23, "labelPadding": 2, "tickOffset": -13.9, "labelOffset": 13.9, "grid": true, "gridWidth": 1.6}},
      "xOffset": {"field": "a", "type": "nominal", "scale": {"domain": ["R","S","G"], "paddingInner": 0.15, "paddingOuter": 0}},
      "y": {"field": "lo", "type": "quantitative", "title": null, "scale": {"type": "log", "domain": [0.636, 8280000], "nice": false}, "axis": {"values": [1,3.1623,10,31.623,100,316.23,1000,3162.3,10000,31623,100000,316228,1000000], "labels": false, "grid": true, "gridWidth": {"condition": {"test": "abs(log(datum.value)/LN10 - round(log(datum.value)/LN10)) < 0.01", "value": 1.6}, "value": 0.8}}},
      "y2": {"field": "hi"},
      "color": {"field": "p", "type": "nominal", "legend": null, "scale": {"domain": ["R1","R2","R3","S1","S2","S3","G1","G2"], "range": ["#ffb000","#ef4040","#a0343e","#80ccf2","#6090ff","#3f1f9b","#8f8f8f","#606060"]}}
     }},
    {"data": {"name": "ticks"}, "transform": [{"filter": "datum.k == '90%'"}], "mark": {"type": "tick", "thickness": 1.5, "size": 12},
     "encoding": {"x": {"field": "n", "type": "nominal", "title": null}, "xOffset": {"field": "a", "type": "nominal"}, "y": {"field": "t", "type": "quantitative", "title": null}, "fill": {"field": "a", "type": "nominal", "legend": null, "scale": {"domain": ["R","S","G"], "range": ["#ee5a5a","#8a7dff","#6e6e6e"]}}}},
    {"data": {"values": [{}]}, "mark": {"type": "text", "text": "k", "fontStyle": "italic", "fontSize": 23, "align": "left", "baseline": "alphabetic", "dx": -41.6}, "encoding": {"x": {"datum": "512 MiB", "type": "nominal"}, "y": {"datum": 2760000, "type": "quantitative"}}},
    {"data": {"values": [{}]}, "mark": {"type": "text", "text": "= 90%", "fontSize": 23, "align": "left", "baseline": "alphabetic", "dx": -24}, "encoding": {"x": {"datum": "512 MiB", "type": "nominal"}, "y": {"datum": 2760000, "type": "quantitative"}}}
   ]
  },
  {
   "layer": [
    {"data": {"name": "inset"}, "transform": [{"filter": "datum.k == '90%' && datum.a == 'R'"}], "mark": "rect", "encoding": {"x": {"field": "f0", "type": "quantitative", "axis": null, "scale": {"domain": [-0.1705, 2.739], "nice": false, "zero": false}}, "x2": {"field": "f1"}, "y": {"datum": 39620, "type": "quantitative"}, "y2": {"datum": 64270}, "color": {"field": "p", "type": "nominal", "legend": null}}},
    {"data": {"name": "inset"}, "transform": [{"filter": "datum.k == '90%' && datum.a == 'S'"}], "mark": "rect", "encoding": {"x": {"field": "f0", "type": "quantitative", "axis": null}, "x2": {"field": "f1"}, "y": {"datum": 24850, "type": "quantitative"}, "y2": {"datum": 39620}, "color": {"field": "p", "type": "nominal", "legend": null}}},
    {"data": {"name": "inset"}, "transform": [{"filter": "datum.k == '90%' && datum.a == 'G'"}], "mark": "rect", "encoding": {"x": {"field": "f0", "type": "quantitative", "axis": null}, "x2": {"field": "f1"}, "y": {"datum": 15520, "type": "quantitative"}, "y2": {"datum": 24850}, "color": {"field": "p", "type": "nominal", "legend": null}}},
    {"data": {"name": "igrid"}, "mark": {"type": "rule", "color": "white", "strokeWidth": 1.8, "opacity": 0.55}, "encoding": {"x": {"field": "f", "type": "quantitative", "axis": null}, "y": {"datum": 15520, "type": "quantitative"}, "y2": {"datum": 64270}}},
    {"data": {"values": [{"w": "Accepted"}]}, "mark": {"type": "text", "font": "Liberation Sans", "fontSize": 232, "angle": -37, "align": "center", "baseline": "middle", "fill": "#000000", "opacity": 0.2}, "encoding": {"x": {"datum": -1.341, "type": "quantitative", "axis": null}, "y": {"datum": 524, "type": "quantitative"}, "text": {"field": "w"}}}
   ]
  }
 ],
 "resolve": {"scale": {"x": "independent"}}
}
]
}
